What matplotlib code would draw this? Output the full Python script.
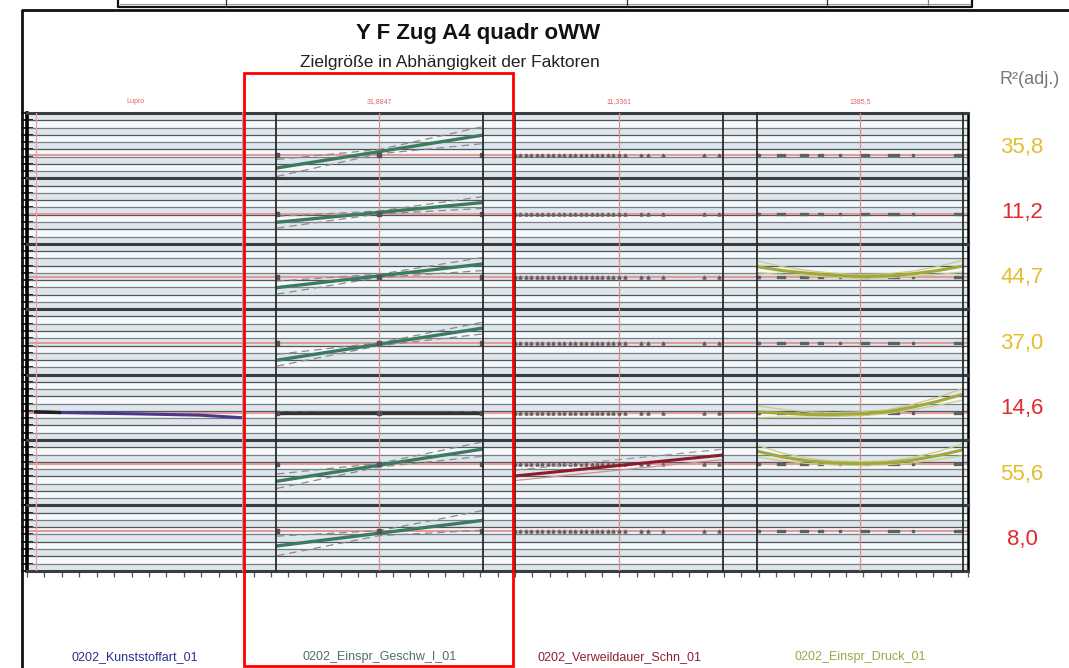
import numpy as np
import matplotlib.pyplot as plt
from matplotlib.patches import Rectangle

plt.rcParams['font.family'] = ['Liberation Sans', 'DejaVu Sans']

# Faktoren (Spalten)
factor_names = ['0202_Kunststoffart_01', '0202_Einspr_Geschw_I_01',
                '0202_Verweildauer_Schn_01', '0202_Einspr_Druck_01']
factor_colors = ['#2b2f8c', '#4f6f69', '#8c2030', '#a3a34a']
factor_center_labels = ['Lupro', '31,8847', '11,3361', '1385,5']

# Bestimmtheitsmass je Zielgroesse (Zeilen)
r2_adj = [35.8, 11.2, 44.7, 37.0, 14.6, 55.6, 8.0]
row_mean = [3.6, 4.6, 4.9, 4.8, 4.1, 6.3, 6.1]

# Kunststoffart (nur Zeile 5 mit Effekt)
kunst_x = [0.04, 0.15, 0.5, 0.8, 1.0]
kunst_y = [4.3, 4.2, 4.0, 3.8, 3.4]

# Einspritzgeschwindigkeit: Stufen und Modellwerte (links, Mitte, rechts)
geschw_levels = [20.0, 31.8847, 43.77]
geschw_fit = [
    [1.6, 4.1, 6.6],
    [3.3, 4.8, 6.3],
    [3.3, 5.1, 6.9],
    [2.2, 4.65, 7.1],
    [4.1, 4.1, 4.1],
    [3.7, 6.15, 8.6],
    [3.8, 5.75, 7.7],
]
geschw_ci = [1.3, 0.9, 1.0, 0.9, 0.2, 1.1, 1.5]

# Verweildauer: Versuchspunkte und Modell (Zeile 6)
verweil_pts = [5.0, 5.33, 5.67, 6.0, 6.33, 6.67, 7.0, 7.33, 7.67, 8.0,
               8.33, 8.67, 9.0, 9.33, 9.67, 10.0, 10.33, 10.67, 11.0, 11.33,
               11.7, 12.7, 13.1, 14.0, 16.5, 17.4]
verweil_lim = [5.0, 17.672]
verweil_fit_y = [4.5, 7.7]

# Einspritzdruck: Versuchspunkte und quadratisches Modell (Zeilen 3, 5, 6)
druck_pts = [705, 715, 840, 860, 880, 990, 1010, 1030, 1110, 1130, 1250,
             1400, 1420, 1440, 1580, 1600, 1620, 1640, 1740, 2020, 2040, 2060]
druck_lim = [700, 2071]
druck_x = [700, 870, 1040, 1210, 1385, 1560, 1730, 1900, 2071]
druck_fit = {
    2: [6.5, 5.9, 5.5, 5.2, 5.0, 5.1, 5.4, 5.9, 6.6],
    4: [4.3, 4.1, 3.9, 3.9, 4.0, 4.3, 5.0, 5.9, 7.0],
    5: [8.3, 7.4, 6.8, 6.5, 6.4, 6.5, 6.9, 7.6, 8.5],
}
druck_ci = [0.9, 0.6, 0.4, 0.3, 0.3, 0.3, 0.4, 0.6, 0.9]

W, H = 1069, 668
fig = plt.figure(figsize=(W / 100, H / 100), dpi=100)


def box(x0, y0, x1, y1):
    return [x0 / W, 1 - y1 / H, (x1 - x0) / W, (y1 - y0) / H]


col_px = [(27, 243), (276, 483), (515, 723), (757, 963)]
row_top, row_h = 113.0, 65.4
n_rows = len(r2_adj)
n_grid = 9
band_cols = ['#dde6ec', '#f5f8fa']

for r in range(n_rows):
    y0 = row_top + r * row_h
    y1 = y0 + row_h

    # Hintergrund der Zeile mit Rasterlinien
    bg = fig.add_axes(box(27, y0, 968, y1), zorder=0)
    bg.set_xlim(0, 1)
    bg.set_ylim(0, 10)
    for k in range(n_grid):
        bg.axhspan(k * 10 / n_grid, (k + 1) * 10 / n_grid,
                   color=band_cols[k % 2], lw=0)
        bg.axhline(k * 10 / n_grid, color='#7a7f84' if k % 2 else '#50555a',
                   lw=0.9)
    bg.axhline(row_mean[r], color='#e59a9a', lw=1.5)
    for s in ['top', 'bottom']:
        bg.spines[s].set_color('#3a3d40')
        bg.spines[s].set_linewidth(2.2)
    bg.spines['left'].set_linewidth(2.6)
    bg.spines['right'].set_linewidth(1.8)
    bg.set_yticks(np.linspace(0, 10, n_grid + 1))
    bg.tick_params(axis='y', which='major', direction='inout', length=8,
                   width=1.2, left=True, right=False, labelleft=False)
    bg2 = bg.secondary_yaxis('right')
    bg2.set_yticks(np.linspace(0, 10, n_grid + 1))
    bg2.tick_params(direction='in', length=5, width=1.0, labelright=False)
    if r == n_rows - 1:
        bg.set_xticks(np.linspace(0, 1, 55))
        bg.tick_params(axis='x', direction='out', length=4, width=0.9,
                       colors='#555555', labelbottom=False)
    else:
        bg.set_xticks([])

    # Panels je Faktor
    axs = []
    for c, (xa, xb) in enumerate(col_px):
        ax = fig.add_axes(box(xa, y0, xb, y1), zorder=2)
        ax.patch.set_alpha(0)
        ax.set_ylim(0, 10)
        ax.set_xticks([])
        ax.set_yticks([])
        for s in ['top', 'bottom']:
            ax.spines[s].set_visible(False)
        for s in ['left', 'right']:
            ax.spines[s].set_color('#2a2a2a')
            ax.spines[s].set_linewidth(1.3)
        axs.append(ax)

    a1, a2, a3, a4 = axs
    a1.spines['left'].set_visible(False)
    a1.spines['right'].set_color('#a0a4a8')

    # Kunststoffart
    a1.set_xlim(0, 1)
    a1.axvline(0.04, color='#e8a0a0', lw=0.9)
    if r == 4:
        a1.plot(kunst_x, kunst_y, color='#4a3a8c', lw=2.2, solid_capstyle='butt')
        a1.plot(kunst_x[:2], kunst_y[:2], color='#222222', lw=2.4)

    # Einspritzgeschwindigkeit
    a2.set_xlim(geschw_levels[0] - 0.1, geschw_levels[-1] + 0.1)
    a2.axvline(geschw_levels[1], color='#e08a8a', lw=0.9)
    yf = np.array(geschw_fit[r])
    ci = geschw_ci[r]
    a2.plot(geschw_levels, yf + np.array([ci, ci * 0.25, ci]), color='#8a8a8a',
            lw=0.9, dashes=(6, 4))
    a2.plot(geschw_levels, yf - np.array([ci, ci * 0.25, ci]), color='#8a8a8a',
            lw=0.9, dashes=(6, 4))
    a2.plot(geschw_levels, yf, color='#3d7a62' if r != 4 else '#333333', lw=2.4)
    a2.plot(geschw_levels, [row_mean[r]] * 3, ls='none', marker='s', ms=2.6,
            color='#555555')

    # Verweildauer
    a3.set_xlim(*verweil_lim)
    a3.axvline(11.3361, color='#e08a8a', lw=0.9)
    a3.plot(verweil_pts, [row_mean[r]] * len(verweil_pts), ls='none',
            marker='^', ms=2.2, color='#606060')
    if r == 5:
        a3.plot(verweil_lim, np.array(verweil_fit_y) + 0.9, color='#9a9a9a',
                lw=0.9, dashes=(6, 4))
        a3.plot(verweil_lim, np.array(verweil_fit_y) - 0.7, color='#d09090',
                lw=0.9)
        a3.plot(verweil_lim, verweil_fit_y, color='#8c1c2c', lw=2.2)

    # Einspritzdruck
    a4.set_xlim(*druck_lim)
    a4.axvline(1385.5, color='#e08a8a', lw=0.9)
    a4.plot(druck_pts, [row_mean[r]] * len(druck_pts), ls='none',
            marker='s', ms=1.8, color='#606060')
    if r in druck_fit:
        yd = np.array(druck_fit[r])
        a4.plot(druck_x, yd + np.array(druck_ci), color='#c9cc8a', lw=0.9)
        a4.plot(druck_x, yd - np.array(druck_ci), color='#c9cc8a', lw=0.9)
        a4.plot(druck_x, yd, color='#a2a83a', lw=2.2)

    # Beschriftung der Mittelwerte ueber der ersten Zeile
    if r == 0:
        centers = [0.5, geschw_levels[1], 11.3361, 1385.5]
        for ax, cx, lab in zip(axs, centers, factor_center_labels):
            ax.annotate(lab, xy=(cx, 1.18), xycoords=('data', 'axes fraction'),
                        ha='center', va='center', fontsize=5, color='#e06060')

    # R²(adj.) je Zeile
    col = '#e5bd2e' if r2_adj[r] >= 30 else '#e02a2a'
    fig.text(1022 / W, 1 - (y0 + row_h * 0.52) / H,
             f'{r2_adj[r]:.1f}'.replace('.', ','), color=col, fontsize=16,
             ha='center', va='center')

# Faktornamen unten
for (xa, xb), name, col in zip(col_px, factor_names, factor_colors):
    fig.text((xa + xb) / 2 / W, 1 - 657 / H, name, color=col, fontsize=9,
             ha='center', va='center')

fig.text(478 / W, 1 - 34 / H, 'Y F Zug A4 quadr oWW', fontsize=16,
         fontweight='bold', ha='center', va='center', color='#111111')
fig.text(450 / W, 1 - 62 / H, 'Zielgröße in Abhängigkeit der Faktoren',
         fontsize=12.5, ha='center', va='center', color='#222222')
fig.text(1030 / W, 1 - 80 / H, 'R²(adj.)', fontsize=13, ha='center',
         va='center', color='#777777')

# Rahmen, Tabellenrest oben und Markierung
deco = fig.add_axes([0, 0, 1, 1], zorder=5)
deco.set_xlim(0, W)
deco.set_ylim(H, 0)
deco.axis('off')
deco.patch.set_alpha(0)
deco.plot([22, 22, W], [H, 10, 10], color='#111111', lw=2)
deco.plot([118, 118, 972, 972], [0, 7, 7, 0], color='#111111', lw=1.6)
deco.plot([120, 970], [4, 4], color='#999999', lw=0.8)
for xv in [226, 627, 827]:
    deco.plot([xv, xv], [0, 7], color='#333333', lw=0.9)
deco.plot([928, 928], [0, 5], color='#888888', lw=0.9)
deco.add_patch(Rectangle((244, 73), 269, 593, fill=False, ec='#ff0000', lw=2))

fig.savefig('out.png', dpi=100, facecolor='white')
